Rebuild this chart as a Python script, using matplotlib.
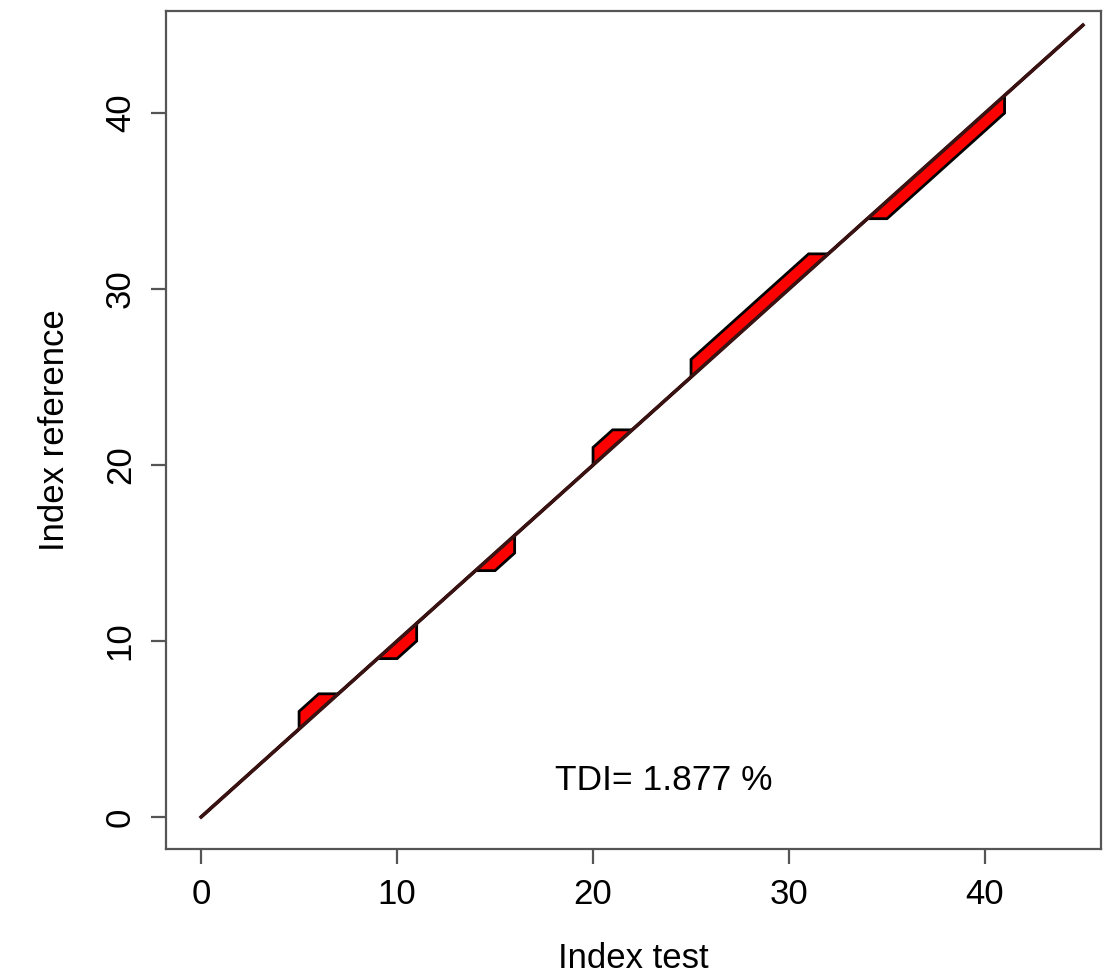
import numpy as np
import matplotlib.pyplot as plt

plt.rcParams['font.family'] = ['Liberation Sans', 'DejaVu Sans']

# Кумулятивні індекси: тест проти референсу (ступінчаста крива)
idx_test = [0, 5, 5, 6, 7, 9, 10, 11, 11, 14, 15, 16, 16, 20, 20, 21, 22,
            25, 25, 31, 32, 34, 35, 41, 41, 45]
idx_ref = [0, 5, 6, 7, 7, 9, 9, 10, 11, 14, 14, 15, 16, 20, 21, 22, 22,
           25, 26, 32, 32, 34, 34, 40, 41, 45]
ticks = [0, 10, 20, 30, 40]
tdi = 1.877

fig = plt.figure(figsize=(11.18, 9.75), dpi=100)
ax = fig.add_axes([0.1485, 0.1292, 0.8363, 0.8595])

# Область між кривою та діагоналлю y = x
diag = np.array([0, max(idx_test)])
poly_x = list(idx_test) + list(diag[::-1])
poly_y = list(idx_ref) + list(diag[::-1])
ax.fill(poly_x, poly_y, facecolor='#ff0000', edgecolor='black', linewidth=2.0)
ax.plot(diag, diag, color='#3a1212', linewidth=2.6)

ax.text(23.6, 2.1, 'TDI= %.3f %%' % tdi, fontsize=25.5, ha='center', va='center')

ax.set_xlim(-1.79, 45.92)
ax.set_ylim(-1.82, 45.8)
ax.set_xticks(ticks)
ax.set_yticks(ticks)
ax.set_yticklabels([str(t) for t in ticks], rotation=90, va='center')
ax.tick_params(labelsize=25, length=11, width=1.6, color='#555555', pad=10)
for s in ax.spines.values():
    s.set_color('#555555')
    s.set_linewidth(1.6)

ax.set_xlabel('Index test', fontsize=25, labelpad=22)
ax.set_ylabel('Index reference', fontsize=25, labelpad=24)

fig.savefig('out.png', dpi=100)
